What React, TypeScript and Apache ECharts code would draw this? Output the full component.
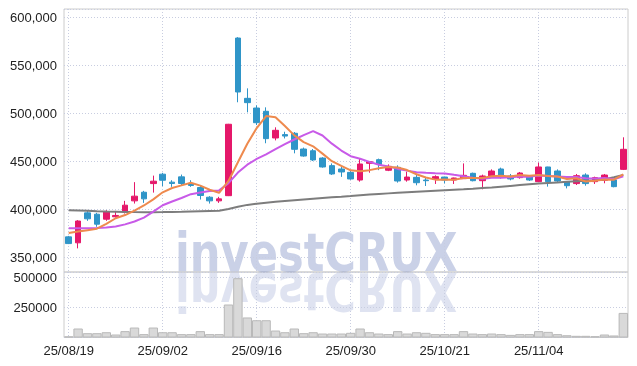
import React, { useEffect, useRef } from 'react';
import * as echarts from 'echarts';

const dates = [
  '25/08/19', '25/08/20', '25/08/21', '25/08/22', '25/08/25', '25/08/26', '25/08/27', '25/08/28', '25/08/29',
  '25/09/01', '25/09/02', '25/09/03', '25/09/04', '25/09/05', '25/09/08', '25/09/09', '25/09/10', '25/09/11',
  '25/09/12', '25/09/15', '25/09/16', '25/09/17', '25/09/18', '25/09/19', '25/09/22', '25/09/23', '25/09/24',
  '25/09/25', '25/09/26', '25/09/29', '25/09/30', '25/10/01', '25/10/02', '25/10/10', '25/10/13', '25/10/14',
  '25/10/15', '25/10/16', '25/10/17', '25/10/20', '25/10/21', '25/10/22', '25/10/23', '25/10/24', '25/10/27',
  '25/10/28', '25/10/29', '25/10/30', '25/10/31', '25/11/03', '25/11/04', '25/11/05', '25/11/06', '25/11/07',
  '25/11/10', '25/11/11', '25/11/12', '25/11/13', '25/11/14', '25/11/17',
];

const opens = [
  371500, 365300, 396500, 395100, 389900, 392400, 397200, 409000, 418000, 427000,
  436800, 428500, 434000, 427100, 422900, 412800, 409000, 414400, 578600, 515800,
  505700, 502300, 474500, 478000, 479400, 463000, 461200, 453600, 445700, 442200,
  438700, 430700, 448100, 451900, 440900, 443900, 430700, 433500, 430700, 431400,
  433800, 430700, 432100, 437700, 430000, 434900, 442200, 434900, 433200, 435200,
  429000, 444300, 440100, 428600, 427000, 435900, 429000, 430400, 430700, 441800,
];
const closes = [
  364500, 388000, 390300, 384700, 397500, 393800, 404500, 413900, 411100, 429500,
  430500, 427100, 427100, 425000, 414600, 409000, 411100, 488800, 522400, 511300,
  490400, 473800, 482500, 476500, 462700, 455700, 451600, 444300, 437000, 439100,
  431800, 447400, 449800, 447000, 445000, 429700, 433800, 427900, 430000, 434200,
  430700, 432800, 435600, 430000, 434900, 440100, 435200, 431800, 438000, 430700,
  444300, 429000, 429700, 424800, 435200, 427000, 433200, 435900, 423800, 462700,
];
const lows = [
  364000, 359500, 388200, 382000, 388200, 391700, 395800, 406200, 406900, 417600,
  424300, 423600, 425300, 423600, 410400, 406200, 406900, 414000, 511700, 501200,
  488000, 469000, 472000, 474000, 458500, 455000, 450500, 443600, 436000, 434000,
  431000, 429000, 438300, 441000, 440000, 428000, 429000, 425200, 424500, 426600,
  427300, 426600, 431800, 429300, 421000, 434200, 432100, 430400, 432100, 429700,
  428500, 423800, 428700, 422000, 425500, 424800, 426600, 427300, 423100, 441100,
];
const highs = [
  372500, 388900, 399300, 396500, 399300, 398600, 409000, 428500, 419400, 435300,
  438200, 430500, 436400, 430500, 425300, 413900, 413200, 489200, 579500, 526200,
  508500, 506400, 485600, 481000, 480700, 464500, 463000, 454500, 448000, 445500,
  440000, 453600, 450500, 453000, 447000, 446000, 439500, 436000, 433500, 435600,
  434200, 433200, 448000, 438400, 436300, 441800, 443600, 437000, 439100, 435900,
  448800, 444500, 441800, 429000, 437000, 437700, 434200, 437000, 431000, 475200,
];

const ma5 = [
  375500, 377000, 378500, 380000, 385000, 390900, 394200, 398900, 404200, 410600,
  417900, 422400, 425100, 427800, 424900, 420600, 417400, 429700, 449200, 468500,
  484800, 497300, 496100, 486900, 477200, 470200, 465800, 458200, 450300, 445500,
  440800, 439900, 441000, 443000, 444200, 443800, 441100, 436700, 433300, 431100,
  431300, 431100, 432700, 432700, 432800, 434700, 435200, 434400, 436000, 435200,
  436000, 434800, 434300, 431700, 432600, 429100, 430000, 431200, 431000, 436500,
];
const ma10 = [
  380500, 380500, 380600, 380800, 381300, 382400, 384500, 387500, 391500, 397800,
  404400, 408300, 412000, 416000, 417700, 419200, 419900, 427400, 438500, 446700,
  452700, 457400, 462900, 468000, 472900, 477500, 481600, 477100, 468600, 461400,
  455500, 452900, 449600, 446600, 444900, 442300, 440500, 438900, 438200, 437700,
  437600, 436100, 434700, 433000, 432000, 433000, 433100, 433500, 434300, 434000,
  435300, 435000, 434400, 433900, 433900, 432600, 432400, 432800, 431400, 434600,
];
const ma60 = [
  399300, 399000, 398600, 398200, 397900, 397700, 397500, 397300, 397200, 397200,
  397300, 397500, 397700, 398000, 398200, 398400, 398600, 400500, 402800, 404800,
  406000, 407000, 408000, 408900, 409700, 410500, 411300, 412000, 412700, 413300,
  414000, 414800, 415500, 416200, 416800, 417400, 418000, 418500, 419000, 419500,
  420000, 420500, 421000, 421600, 422300, 423000, 423800, 424600, 425400, 426200,
  427000, 427600, 428200, 428800, 429400, 430000, 430600, 431600, 433500, 436000,
];

const volumes = [
  10000, 75000, 36000, 36000, 44000, 25000, 53000, 83000, 28000, 83000,
  44000, 44000, 28000, 28000, 53000, 28000, 28000, 275000, 494000, 167000,
  144000, 144000, 58000, 44000, 75000, 36000, 44000, 33000, 33000, 33000,
  39000, 75000, 44000, 33000, 28000, 53000, 33000, 44000, 39000, 28000,
  28000, 28000, 53000, 33000, 28000, 33000, 28000, 22000, 28000, 28000,
  53000, 47000, 28000, 19000, 14000, 14000, 11000, 25000, 17000, 205000,
];

const FONT = '"Liberation Sans", Arial, sans-serif';
const WM_FONT = '"DejaVu Sans", Verdana, sans-serif';
const UP = '#e5186a';
const DOWN = '#2f95c8';

export default function App() {
  const ref = useRef<HTMLDivElement>(null);

  useEffect(() => {
    const chart = echarts.init(ref.current!, undefined, { renderer: 'svg' });
    const candles = dates.map((_, i) => [opens[i], closes[i], lows[i], highs[i]]);
    const dotted = { show: true, lineStyle: { color: '#c8cde0', type: [1, 2], width: 1 } };
    const vSplit = { ...dotted, interval: 9, alignWithLabel: true };
    const labelStyle = { color: '#222', fontSize: 13, fontFamily: FONT };

    chart.setOption({
      animation: false,
      grid: [
        { left: 64, right: 9, top: 9, height: 263, show: true, borderColor: '#cccccc', borderWidth: 1 },
        { left: 64, right: 9, top: 272, height: 65.5, show: true, borderColor: '#cccccc', borderWidth: 1 },
      ],
      xAxis: [
        {
          type: 'category', gridIndex: 0, data: dates, boundaryGap: true,
          axisLine: { show: false }, axisTick: { show: false, interval: 9, alignWithLabel: true },
          axisLabel: { show: false, interval: 9 }, splitLine: vSplit,
        },
        {
          type: 'category', gridIndex: 1, data: dates, boundaryGap: true,
          axisLine: { show: false }, axisTick: { show: false, interval: 9, alignWithLabel: true },
          axisLabel: { ...labelStyle, interval: 9, margin: 6 }, splitLine: vSplit,
        },
      ],
      yAxis: [
        {
          type: 'value', gridIndex: 0, min: 334900, max: 608850, splitNumber: 5,
          minInterval: 50000, maxInterval: 50000,
          axisLine: { show: false }, axisTick: { show: false },
          axisLabel: {
            ...labelStyle, margin: 7, showMinLabel: false, showMaxLabel: false,
            formatter: (v: number) => (v % 50000 === 0 ? v.toLocaleString('en-US') : ''),
          },
          splitLine: dotted,
        },
        {
          type: 'value', gridIndex: 1, min: 0, max: 545833, interval: 250000,
          axisLine: { show: false }, axisTick: { show: false },
          axisLabel: {
            ...labelStyle, margin: 7, showMinLabel: false, showMaxLabel: false,
            formatter: (v: number) => (v > 0 && v % 250000 === 0 ? String(v) : ''),
          },
          splitLine: dotted,
        },
      ],
      graphic: [
        {
          type: 'group', x: 175, y: 272, scaleX: 0.8, z: 0, silent: true,
          children: [{
            type: 'text', x: 0, y: -19,
            style: { text: 'investCRUX', font: `bold 54px ${WM_FONT}`, fill: 'rgba(150,163,208,0.5)', align: 'left', verticalAlign: 'middle' },
          }],
        },
        {
          type: 'group', x: 175, y: 272, scaleX: 0.8, scaleY: -1, z: 0, silent: true,
          children: [{
            type: 'text', x: 0, y: -19,
            style: { text: 'investCRUX', font: `bold 54px ${WM_FONT}`, fill: 'rgba(150,163,208,0.3)', align: 'left', verticalAlign: 'middle' },
          }],
        },
      ],
      series: [
        {
          type: 'candlestick', xAxisIndex: 0, yAxisIndex: 0, data: candles, barWidth: 6,
          itemStyle: { color: UP, color0: DOWN, borderColor: UP, borderColor0: DOWN, borderWidth: 1 },
        },
        { type: 'line', xAxisIndex: 0, yAxisIndex: 0, data: ma60, symbol: 'none', lineStyle: { color: '#7d7d7d', width: 2 }, z: 3 },
        { type: 'line', xAxisIndex: 0, yAxisIndex: 0, data: ma10, symbol: 'none', lineStyle: { color: '#c85ae8', width: 2 }, z: 3 },
        { type: 'line', xAxisIndex: 0, yAxisIndex: 0, data: ma5, symbol: 'none', lineStyle: { color: '#ee8a4e', width: 2 }, z: 3 },
        {
          type: 'bar', xAxisIndex: 1, yAxisIndex: 1, data: volumes, barCategoryGap: '0%',
          itemStyle: { color: '#d9d9d9', borderColor: '#b9b9b9', borderWidth: 1 },
        },
      ],
    });
    return () => chart.dispose();
  }, []);

  return <div ref={ref} style={{ position: 'fixed', left: 0, top: 0, width: 637, height: 366 }} />;
}
